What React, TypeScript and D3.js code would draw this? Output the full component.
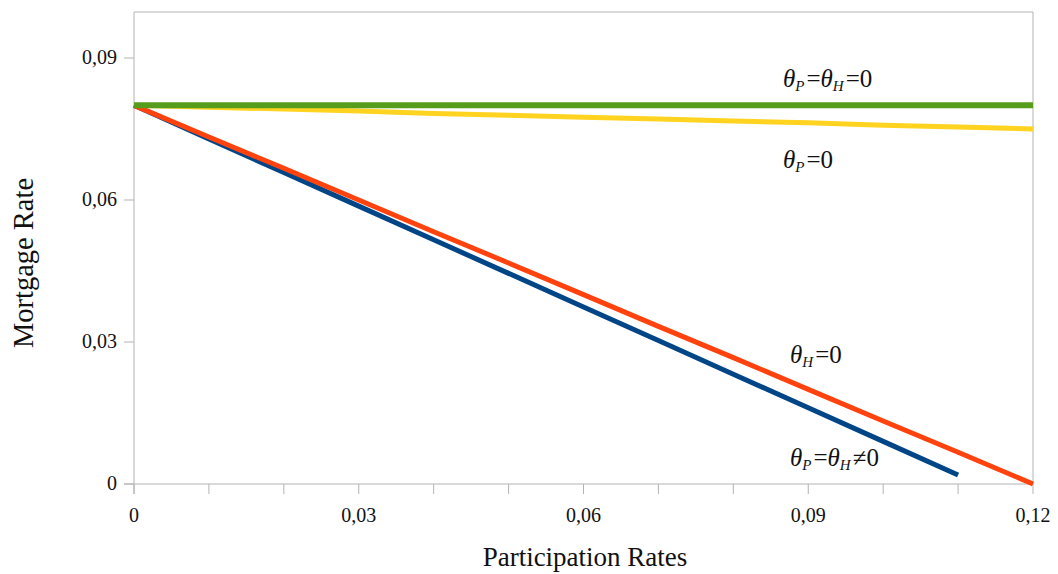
import React from "react";
import * as d3 from "d3";

const xValues = [0, 0.01, 0.02, 0.03, 0.04, 0.05, 0.06, 0.07, 0.08, 0.09, 0.1, 0.11, 0.12];
const bothNonZero = [0.08, 0.0729, 0.0658, 0.0587, 0.0516, 0.0445, 0.0374, 0.0303, 0.0232, 0.0161, 0.009, 0.0019];
const thetaH0 = [0.08, 0.0733, 0.0667, 0.06, 0.0533, 0.0467, 0.04, 0.0333, 0.0267, 0.02, 0.0133, 0.0067, 0];
const thetaP0 = [0.08, 0.0796, 0.0792, 0.0788, 0.0783, 0.0779, 0.0775, 0.0771, 0.0767, 0.0763, 0.0758, 0.0754, 0.075];
const bothZero = [0.08, 0.08, 0.08, 0.08, 0.08, 0.08, 0.08, 0.08, 0.08, 0.08, 0.08, 0.08, 0.08];
const yTicks = [0, 0.03, 0.06, 0.09];
const xTicks = [0, 0.03, 0.06, 0.09, 0.12];
const xMinorTicks = [0, 0.01, 0.02, 0.03, 0.04, 0.05, 0.06, 0.07, 0.08, 0.09, 0.1, 0.11, 0.12];

const W = 1058, H = 574;
const L = 134, R = 1033, T = 12, B = 484;
const fmt = (v: number) => (v === 0 ? "0" : v.toFixed(2).replace(".", ","));
const FONT = "'Liberation Serif', 'DejaVu Serif', serif";

export default function App() {
  const x = d3.scaleLinear().domain([0, 0.12]).range([L, R]);
  const y = d3.scaleLinear().domain([0, 0.09]).range([B, B - 426]);
  const line = d3
    .line<number>()
    .x((_, i) => x(xValues[i]))
    .y((d) => y(d));

  const series = [
    { data: bothNonZero, color: "#004586", w: 5 },
    { data: thetaH0, color: "#ff420e", w: 5 },
    { data: thetaP0, color: "#ffd320", w: 5 },
    { data: bothZero, color: "#579d1c", w: 6 },
  ];

  const theta = (sub?: string) => (
    <>
      <tspan fontStyle="italic">θ</tspan>
      {sub && (
        <tspan fontStyle="italic" fontSize={15} dy={4}>
          {sub}
        </tspan>
      )}
    </>
  );

  const labelStyle = { fontFamily: FONT, fontSize: 25, fill: "#111" };
  const eq = (s: string) => (
    <tspan dy={-4} dx={2}>
      {s}
    </tspan>
  );

  return (
    <svg width={W} height={H} style={{ position: "absolute", left: 0, top: 0, background: "#fff" }}>
      <rect x={0} y={0} width={W} height={H} fill="#fff" />
      <line x1={L} x2={R} y1={T} y2={T} stroke="#b3b3b3" />
      <line x1={R} x2={R} y1={T} y2={B} stroke="#b3b3b3" />
      <line x1={L} x2={L} y1={T} y2={B + 10} stroke="#b3b3b3" />
      <line x1={L - 10} x2={R} y1={B} y2={B} stroke="#b3b3b3" />
      {yTicks.map((t) => (
        <g key={"y" + t}>
          <line x1={L - 10} x2={L} y1={y(t)} y2={y(t)} stroke="#b3b3b3" />
          <text x={L - 17} y={y(t) + 6} textAnchor="end" fontFamily={FONT} fontSize={20} fill="#111">
            {fmt(t)}
          </text>
        </g>
      ))}
      {xMinorTicks.map((t) => (
        <line key={"m" + t} x1={x(t)} x2={x(t)} y1={B} y2={B + 10} stroke="#b3b3b3" />
      ))}
      {xTicks.map((t) => (
        <text key={"x" + t} x={x(t)} y={B + 38} textAnchor="middle" fontFamily={FONT} fontSize={20} fill="#111">
          {fmt(t)}
        </text>
      ))}
      {series.map((s, i) => (
        <path key={i} d={line(s.data) || ""} fill="none" stroke={s.color} strokeWidth={s.w} />
      ))}
      <text x={585} y={566} textAnchor="middle" fontFamily={FONT} fontSize={27} fill="#111">
        Participation Rates
      </text>
      <text
        transform={`translate(33,263) rotate(-90)`}
        textAnchor="middle"
        fontFamily={FONT}
        fontSize={28.5}
        fill="#111"
      >
        Mortgage Rate
      </text>
      <text x={783} y={87} {...labelStyle}>
        {theta("P")}
        {eq("=")}
        {theta("H")}
        {eq("=0")}
      </text>
      <text x={783} y={168} {...labelStyle}>
        {theta("P")}
        {eq("=0")}
      </text>
      <text x={790} y={363} {...labelStyle}>
        {theta("H")}
        {eq("=0")}
      </text>
      <text x={790} y={466} {...labelStyle}>
        {theta("P")}
        {eq("=")}
        {theta("H")}
        {eq("≠0")}
      </text>
    </svg>
  );
}
